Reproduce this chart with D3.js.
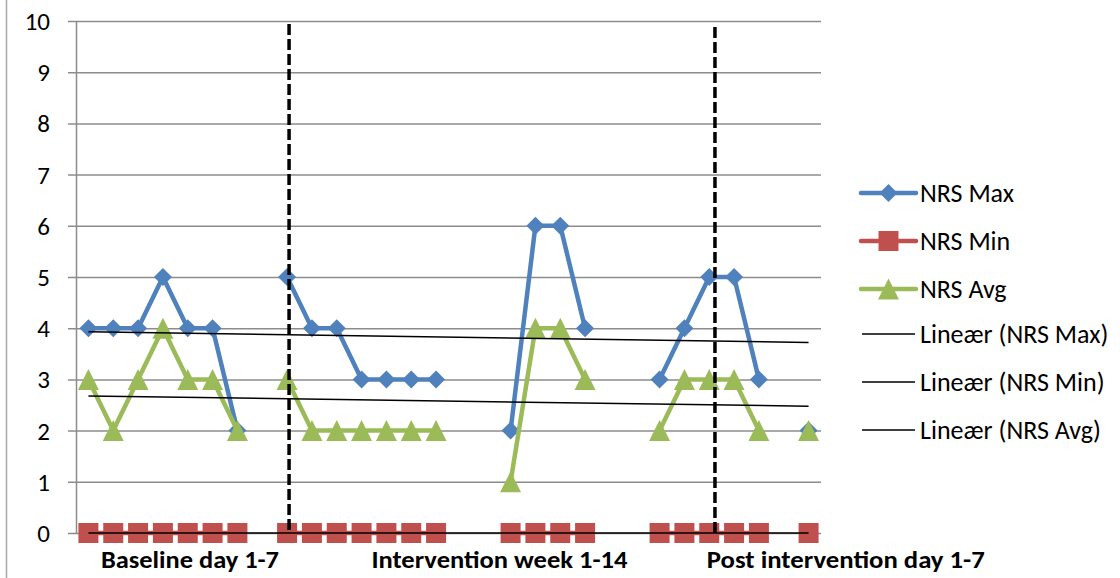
<!DOCTYPE html>
<html>
<head>
<meta charset="utf-8">
<script src="https://cdn.jsdelivr.net/npm/d3@7"></script>
<style>
  html, body { margin: 0; padding: 0; background: #fff; }
  svg { display: block; font-family: Carlito, Calibri, "Liberation Sans", Arial, sans-serif; }
</style>
</head>
<body>
<svg id="chart" width="1120" height="578"></svg>
<script>
// Days/weeks in order along the category axis; null = no recording (gap in line)
const categories = ["b1","b2","b3","b4","b5","b6","b7","s1",
  "i1","i2","i3","i4","i5","i6","i7","s2","s3",
  "i8","i9","i10","i11","s4","s5",
  "p1","p2","p3","p4","p5","s6","p6"];

const nrsMax = [4,4,4,5,4,4,2,null,5,4,4,3,3,3,3,null,null,2,6,6,4,null,null,3,4,5,5,3,null,2];
const nrsMin = [0,0,0,0,0,0,0,null,0,0,0,0,0,0,0,null,null,0,0,0,0,null,null,0,0,0,0,0,null,0];
const nrsAvg = [3,2,3,4,3,3,2,null,3,2,2,2,2,2,2,null,null,1,4,4,3,null,null,2,3,3,3,2,null,2];

const yTicks = [0,1,2,3,4,5,6,7,8,9,10];

const seriesNames = ["NRS Max", "NRS Min", "NRS Avg"];
const trendNames = ["Lineær (NRS Max)", "Lineær (NRS Min)", "Lineær (NRS Avg)"];

// Phase labels and separators, in category units along the axis
const phaseLabels = ["Baseline day 1-7", "Intervention week 1-14", "Post intervention day 1-7"];
const phaseLabelPos = [4.59, 17.05, 31.0];
const phaseBreaks = [8.58, 25.73];

const colors = { max: "#4F81BD", min: "#C0504D", avg: "#9BBB59" };

const svg = d3.select("#chart");
const plotL = 76, plotR = 821, plotT = 21, plotB = 533;

const x = d3.scaleBand().domain(categories).range([plotL, plotR]);
const xc = c => x(c) + x.bandwidth() / 2;
const xu = d3.scaleLinear().domain([0, categories.length]).range([plotL, plotR]);
const y = d3.scaleLinear().domain([0, 10]).range([plotB, plotT]);

// outer frame edge
svg.append("line").attr("x1", 6.5).attr("x2", 6.5).attr("y1", 0).attr("y2", 578)
  .attr("stroke", "#a6a6a6").attr("stroke-width", 1.5);

// gridlines + y axis
const yAxis = d3.axisLeft(y).tickValues(yTicks).tickSize(-(plotR - plotL)).tickSizeOuter(0);
const yg = svg.append("g").attr("transform", `translate(${plotL},0)`).call(yAxis);
yg.select(".domain").attr("stroke", "#8c8c8c").attr("stroke-width", 1.5);
yg.selectAll(".tick line").attr("stroke", "#8c8c8c").attr("stroke-width", 1.5).attr("x1", -8);
yg.selectAll(".tick text").attr("font-size", 25).attr("fill", "#000")
  .attr("font-family", "Carlito, Calibri, 'Liberation Sans', Arial, sans-serif")
  .attr("x", -26).attr("dy", "0.34em");

// series lines
const line = d3.line()
  .defined(d => d.v !== null)
  .x(d => xc(d.c))
  .y(d => y(d.v));

const toPts = arr => arr.map((v, i) => ({ c: categories[i], v }));

const diamond = "M0,-9L9,0L0,9L-9,0Z";
const square = "M-10,-10H10V10H-10Z";
const triangle = "M0,-10.5L10.5,10.5L-10.5,10.5Z";

const series = [
  { data: nrsMax, color: colors.max, shape: diamond },
  { data: nrsMin, color: colors.min, shape: square },
  { data: nrsAvg, color: colors.avg, shape: triangle }
];

series.forEach(s => {
  const g = svg.append("g");
  g.append("path").datum(toPts(s.data))
    .attr("d", line).attr("fill", "none")
    .attr("stroke", s.color).attr("stroke-width", 4.5).attr("stroke-linejoin", "round");
  g.selectAll("path.m").data(toPts(s.data).filter(d => d.v !== null)).join("path")
    .attr("class", "m")
    .attr("transform", d => `translate(${xc(d.c)},${y(d.v)})`)
    .attr("d", s.shape).attr("fill", s.color);
});

// linear trendlines (least squares over category number)
function trend(arr) {
  const pts = arr.map((v, i) => [i + 1, v]).filter(p => p[1] !== null);
  const mx = d3.mean(pts, p => p[0]), my = d3.mean(pts, p => p[1]);
  const sxy = d3.sum(pts, p => (p[0] - mx) * (p[1] - my));
  const sxx = d3.sum(pts, p => (p[0] - mx) ** 2);
  const b = sxx === 0 ? 0 : sxy / sxx;
  const a = my - b * mx;
  return [1, categories.length].map(k => ({ c: categories[k - 1], v: a + b * k }));
}
[nrsMax, nrsMin, nrsAvg].forEach(arr => {
  svg.append("path").datum(trend(arr))
    .attr("d", line).attr("fill", "none")
    .attr("stroke", "#000").attr("stroke-width", 1.5);
});

// phase separators
phaseBreaks.forEach((p, i) => {
  svg.append("line")
    .attr("x1", xu(p)).attr("x2", xu(p))
    .attr("y1", i === 0 ? 24 : 27).attr("y2", plotB)
    .attr("stroke", "#000").attr("stroke-width", 3.5)
    .attr("stroke-dasharray", "11,4");
});

// phase labels
const labelWidths = [178, 256, 278];
phaseLabels.forEach((t, i) => {
  svg.append("text")
    .attr("x", xu(phaseLabelPos[i])).attr("y", 568)
    .attr("text-anchor", "middle")
    .attr("font-weight", "bold").attr("font-size", 24)
    .attr("textLength", labelWidths[i]).attr("lengthAdjust", "spacingAndGlyphs")
    .attr("fill", "#000")
    .text(t);
});

// legend
const legend = svg.append("g").attr("transform", "translate(861,193)");
const rowH = 48;
series.forEach((s, i) => {
  const r = legend.append("g").attr("transform", `translate(0,${i * rowH})`);
  r.append("line").attr("x1", 0).attr("x2", 55).attr("y1", 0).attr("y2", 0)
    .attr("stroke", s.color).attr("stroke-width", 4.5).attr("stroke-linecap", "round");
  r.append("path").attr("d", s.shape).attr("transform", "translate(27.5,0)").attr("fill", s.color);
  r.append("text").attr("x", 59).attr("y", 0).attr("dy", "0.34em")
    .attr("font-size", 26).attr("fill", "#000").text(seriesNames[i]);
});
trendNames.forEach((t, i) => {
  const r = legend.append("g").attr("transform", `translate(0,${(i + 3) * rowH - 3})`);
  r.append("line").attr("x1", 1).attr("x2", 54).attr("y1", 0).attr("y2", 0)
    .attr("stroke", "#000").attr("stroke-width", 1.5);
  r.append("text").attr("x", 59).attr("y", 0).attr("dy", "0.34em")
    .attr("font-size", 26).attr("fill", "#000").text(t);
});
</script>
</body>
</html>
